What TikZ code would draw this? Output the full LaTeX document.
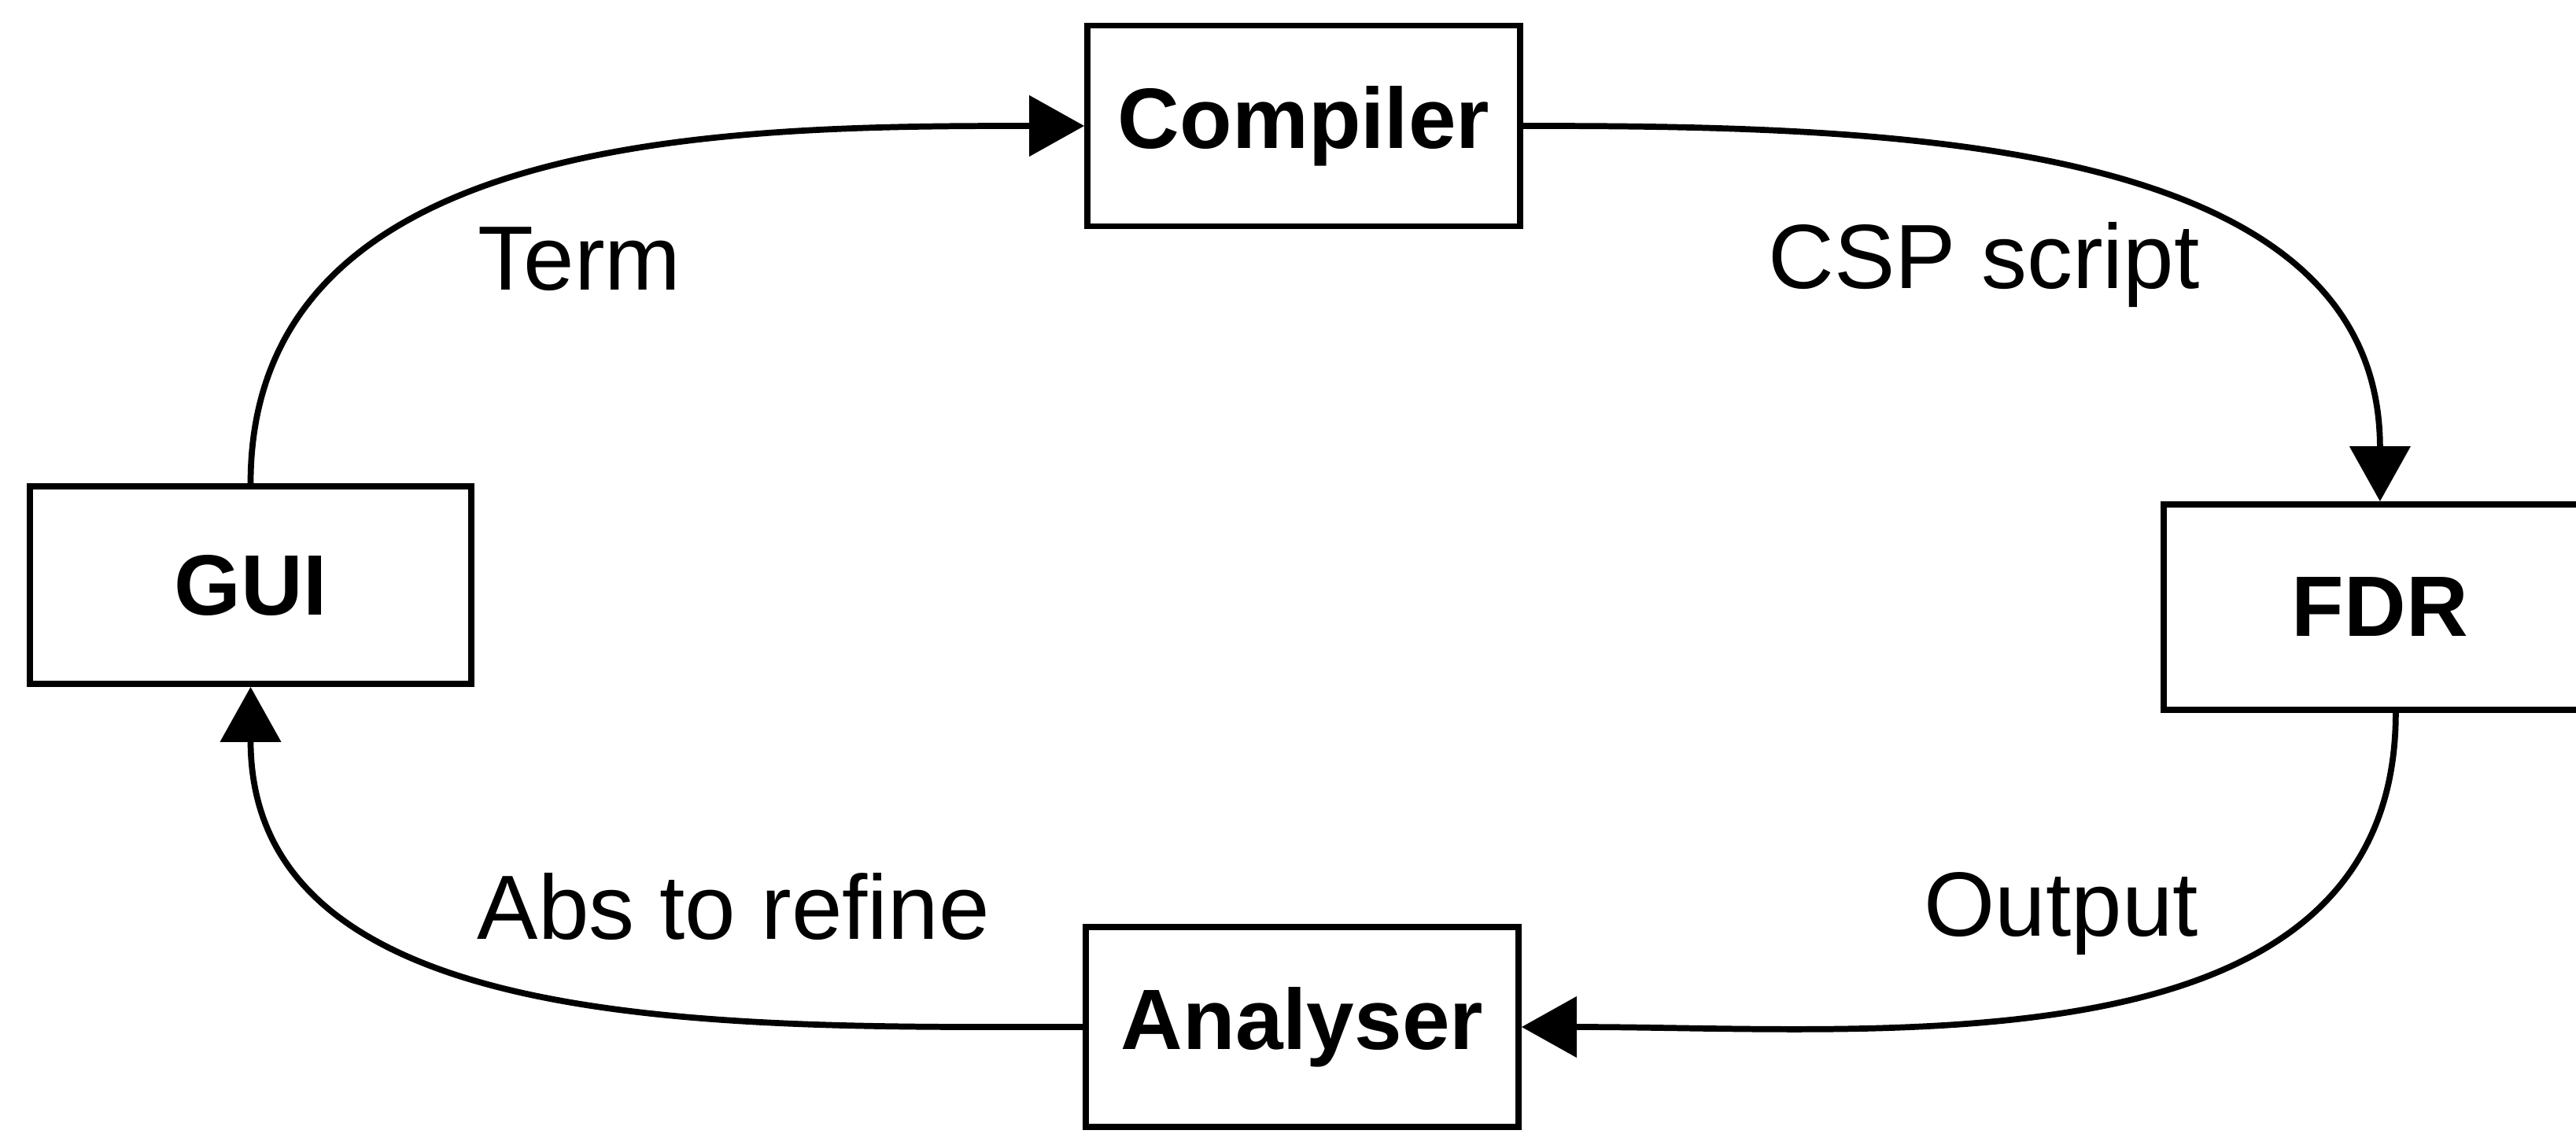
\documentclass[tikz,border=0pt]{standalone}
\usepackage{fontspec}
\setmainfont{Liberation Sans}
\usetikzlibrary{arrows.meta}

\begin{document}
\begin{tikzpicture}[box/.style = {draw, line width=2.2pt, minimum width=5.5cm, minimum height=2.55cm,
                                  font=\fontsize{31}{36}\selectfont\bfseries},
                    lbl/.style = {inner sep=0pt, anchor=base west, font=\fontsize{33}{38}\selectfont},
                    arrow/.style = {line width=2.2pt, -{Triangle[length=0.7cm, width=0.76cm]}}]
            \useasboundingbox (0,0) rectangle (32.74,-14.41);

            \node[box] (compiler) at (16.57,-1.60) {Compiler};
            \node[box, minimum width=5.61cm, minimum height=2.51cm] (gui) at (3.185,-7.435) {GUI};
            \node[box, anchor=west, minimum height=2.61cm] (fdr) at (27.46,-7.715) {FDR};
            \node[box, minimum height=2.54cm] (analyser) at (16.55,-13.05) {Analyser};

            \node[lbl] (term)   at (6.07,-3.69)   {Term};
            \node[lbl] (csp)    at (22.47,-3.67)  {CSP script};
            \node[lbl] (abs)    at (6.06,-11.93)  {Abs to refine};
            \node[lbl] (output) at (24.45,-11.89) {Output};

            \draw[arrow] (gui.north) to[out=90, in=180] (compiler.west);
            \draw[arrow] (compiler.east) to[out=0, in=90] (fdr.north);
            \draw[arrow] ([xshift=0.2cm]fdr.south) to[out=-90, in=0] (analyser.east);
            \draw[arrow] (analyser.west) to[out=180, in=-90] (gui.south);
        \end{tikzpicture}
\end{document}
